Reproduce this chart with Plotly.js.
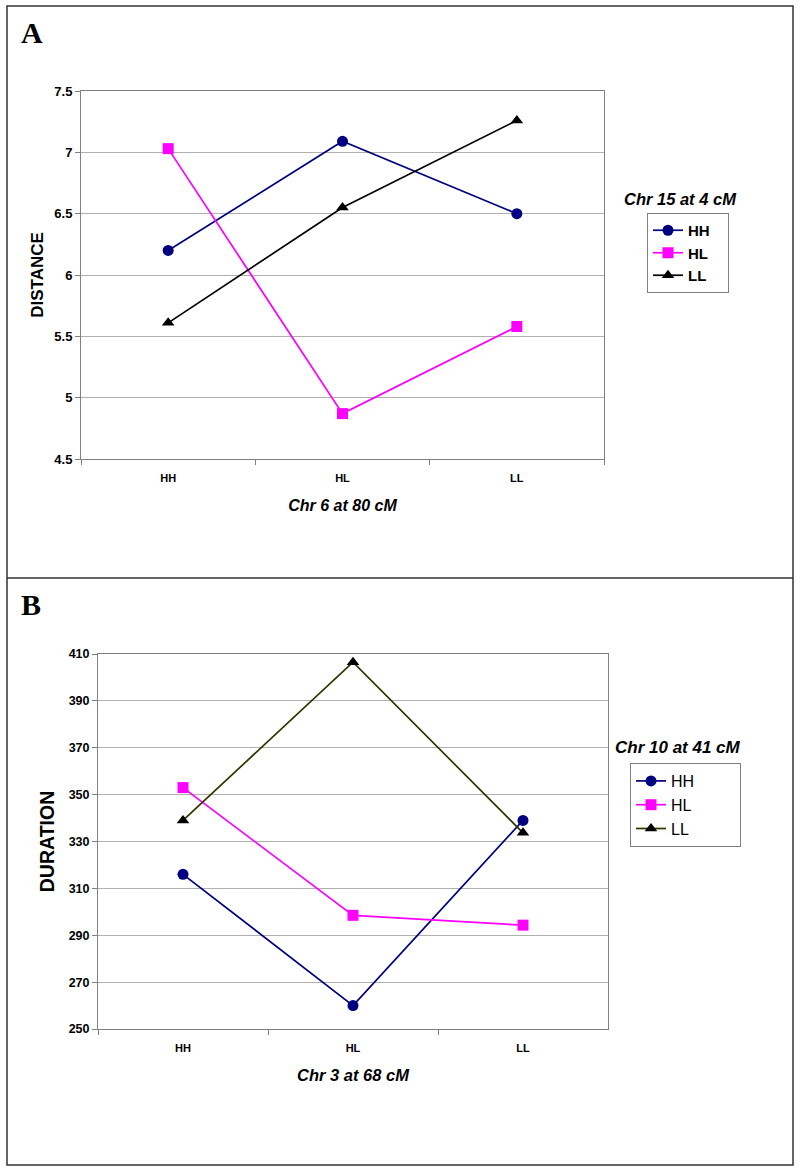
<!DOCTYPE html>
<html>
<head>
<meta charset="utf-8">
<script src="https://cdn.plot.ly/plotly-3.0.1.min.js"></script>
<style>html,body{margin:0;padding:0;background:#fff;}#chart{width:800px;height:1172px;}</style>
</head>
<body>
<div id="chart"></div>
<script>
// ---- Data ----
const categories = ["HH", "HL", "LL"];
const seriesNames = ["HH", "HL", "LL"];

// Panel A: DISTANCE by Chr 6 at 80 cM genotype, series = Chr 15 at 4 cM
const distanceHH = [6.20, 7.09, 6.50];
const distanceHL = [7.03, 4.87, 5.58];
const distanceLL = [5.61, 6.55, 7.26];

// Panel B: DURATION by Chr 3 at 68 cM genotype, series = Chr 10 at 41 cM
const durationHH = [316, 260, 339];
const durationHL = [353, 298.5, 294.3];
const durationLL = [339, 406.5, 333.7];

const yTicksA = [4.5, 5, 5.5, 6, 6.5, 7, 7.5];
const yTickTextA = ["4.5", "5", "5.5", "6", "6.5", "7", "7.5"];
const yTicksB = [250, 270, 290, 310, 330, 350, 370, 390, 410];

// ---- Styles ----
const W = 800, H = 1172;
const px = v => v / W;
const py = v => 1 - v / H;
const markerSym = ["circle", "square", "triangle-up"];
const colA = ["#000080", "#FF00FF", "#000000"];
const colB = ["#000080", "#FF00FF", "#333300"];
const markCol = ["#000080", "#FF00FF", "#000000"];
const padA = "\u00a0\u00a0\u00a0";
const padB = "\u00a0\u00a0\u00a0\u00a0\u00a0\u00a0\u00a0\u00a0\u00a0";

const traces = [];
[distanceHH, distanceHL, distanceLL].forEach((arr, i) => {
  traces.push({
    x: categories, y: arr, name: seriesNames[i] + padA, type: "scatter", mode: "lines+markers",
    xaxis: "x", yaxis: "y", legend: "legend",
    line: {color: colA[i], width: 1.7},
    marker: {symbol: markerSym[i], size: 11, color: markCol[i], line: {width: 0}}
  });
});
[durationHH, durationHL, durationLL].forEach((arr, i) => {
  traces.push({
    x: categories, y: arr, name: seriesNames[i] + padB, type: "scatter", mode: "lines+markers",
    xaxis: "x2", yaxis: "y2", legend: "legend2",
    line: {color: colB[i], width: 1.7},
    marker: {symbol: markerSym[i], size: 11, color: markCol[i], line: {width: 0}}
  });
});

const FONT = "Arial, Liberation Sans, sans-serif";
const axisCommonX = {
  type: "category", tickson: "boundaries", ticks: "outside", ticklen: 5, tickcolor: "#808080",
  range: [-0.5, 2.5], ticklabelstandoff: 9,
  showline: true, linecolor: "#808080", linewidth: 1, mirror: true, showgrid: false,
  tickfont: {family: FONT, size: 11, color: "#000", weight: "bold"},
  fixedrange: true
};
const axisCommonY = {
  ticks: "outside", ticklen: 5, tickcolor: "#808080", showline: true, linecolor: "#808080",
  linewidth: 1, mirror: true, showgrid: true, gridcolor: "#b0b0b0", gridwidth: 1, zeroline: false,
  fixedrange: true
};

const layout = {
  width: W, height: H,
  margin: {l: 0, r: 0, t: 0, b: 0},
  paper_bgcolor: "#fff", plot_bgcolor: "#fff",
  showlegend: true,
  xaxis: Object.assign({}, axisCommonX, {
    domain: [px(81), px(604)], anchor: "y",
    title: {text: "<i>Chr 6 at 80 cM</i>", standoff: 16,
      font: {family: FONT, size: 16, color: "#000", weight: "bold"}}
  }),
  yaxis: Object.assign({}, axisCommonY, {
    domain: [py(459), py(91)], anchor: "x", range: [4.5, 7.5],
    tickvals: yTicksA, ticktext: yTickTextA,
    tickfont: {family: FONT, size: 13, color: "#000", weight: "bold"},
    title: {text: "DISTANCE", standoff: 6,
      font: {family: FONT, size: 17, color: "#000", weight: "bold"}}
  }),
  xaxis2: Object.assign({}, axisCommonX, {
    domain: [px(98), px(608)], anchor: "y2",
    title: {text: "<i>Chr 3 at 68 cM</i>", standoff: 16,
      font: {family: FONT, size: 16.5, color: "#000", weight: "bold"}}
  }),
  yaxis2: Object.assign({}, axisCommonY, {
    domain: [py(1029), py(654)], anchor: "x2", range: [250, 410],
    tickvals: yTicksB,
    tickfont: {family: FONT, size: 12.5, color: "#000", weight: "bold"},
    title: {text: "DURATION", standoff: 8,
      font: {family: FONT, size: 19.5, color: "#000", weight: "bold"}}
  }),
  legend: {
    x: px(647), y: py(213), xanchor: "left", yanchor: "top",
    bgcolor: "#fff", bordercolor: "#808080", borderwidth: 1,
    font: {family: FONT, size: 15, color: "#000", weight: "bold"},
    itemwidth: 30, tracegroupgap: 0
  },
  legend2: {
    x: px(630), y: py(763), xanchor: "left", yanchor: "top",
    bgcolor: "#fff", bordercolor: "#808080", borderwidth: 1,
    font: {family: FONT, size: 16, color: "#000"},
    itemwidth: 30, tracegroupgap: 0
  },
  annotations: [
    {text: "<b>A</b>", x: px(19), y: py(14), xref: "paper", yref: "paper", xanchor: "left", yanchor: "top",
      showarrow: false, font: {family: "Liberation Serif, Times New Roman, serif", size: 30, color: "#000"}},
    {text: "<b>B</b>", x: px(19), y: py(586), xref: "paper", yref: "paper", xanchor: "left", yanchor: "top",
      showarrow: false, font: {family: "Liberation Serif, Times New Roman, serif", size: 30, color: "#000"}},
    {text: "<b><i>Chr 15 at 4 cM</i></b>", x: px(680), y: py(199), xref: "paper", yref: "paper",
      xanchor: "center", yanchor: "middle", showarrow: false,
      font: {family: FONT, size: 16.5, color: "#000"}},
    {text: "<b><i>Chr 10 at 41 cM</i></b>", x: px(678), y: py(748), xref: "paper", yref: "paper",
      xanchor: "center", yanchor: "middle", showarrow: false,
      font: {family: FONT, size: 17, color: "#000"}}
  ],
  shapes: [
    {type: "rect", xref: "paper", yref: "paper", x0: px(7), x1: px(793), y0: py(1165), y1: py(6),
      line: {color: "#333", width: 1.5}},
    {type: "line", xref: "paper", yref: "paper", x0: px(7), x1: px(793), y0: py(578), y1: py(578),
      line: {color: "#333", width: 1.5}}
  ]
};

Plotly.newPlot("chart", traces, layout, {staticPlot: true, displayModeBar: false});
</script>
</body>
</html>
